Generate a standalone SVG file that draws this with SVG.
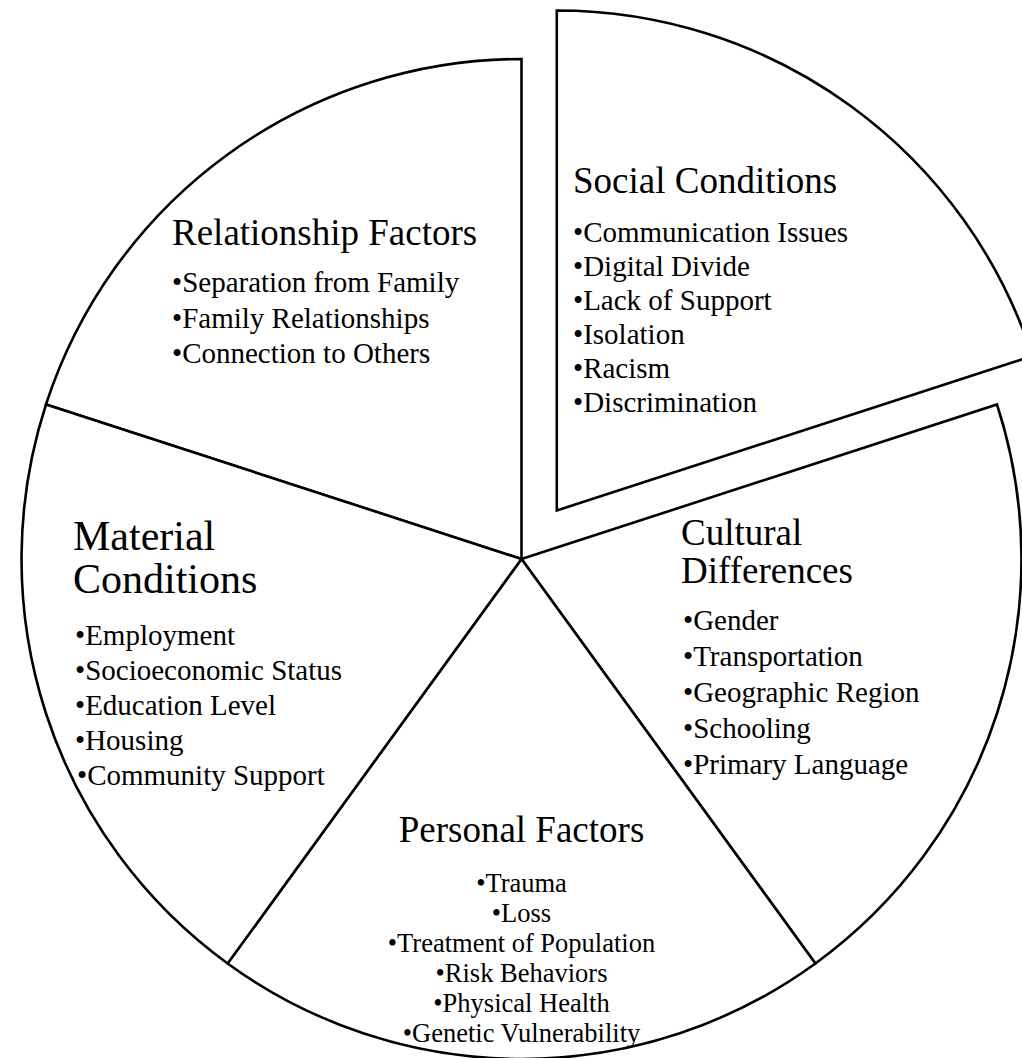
<svg xmlns="http://www.w3.org/2000/svg" width="1022" height="1058" viewBox="0 0 1022 1058">
<style>
.slice{fill:#ffffff;stroke:#000000;stroke-width:2.6;stroke-linejoin:miter}
text{font-family:"Liberation Serif","Times New Roman",serif;fill:#000000}
.t37{font-size:37px}
.t42{font-size:42px}
.b29{font-size:29px}
.b26{font-size:26.5px}
</style>
<rect x="0" y="0" width="1022" height="1058" fill="#ffffff"/>
<g id="slices">
<g id="relationship-factors">
<path class="slice" d="M 521.5 559 L 46.0 404.5 A 500 500 0 0 1 521.5 59 Z"/>
<text class="t37" x="172" y="245">Relationship Factors</text>
<text class="b29" x="172" y="292">•Separation from Family</text>
<text class="b29" x="172" y="327.5">•Family Relationships</text>
<text class="b29" x="172" y="363">•Connection to Others</text>
</g>
<g id="social-conditions">
<path class="slice" d="M 556.8 510.5 L 556.8 10.5 A 500 500 0 0 1 1032.3 356 Z"/>
<text class="t37" x="573" y="193">Social Conditions</text>
<text class="b29" x="573" y="242">•Communication Issues</text>
<text class="b29" x="573" y="276">•Digital Divide</text>
<text class="b29" x="573" y="310">•Lack of Support</text>
<text class="b29" x="573" y="344">•Isolation</text>
<text class="b29" x="573" y="378">•Racism</text>
<text class="b29" x="573" y="412">•Discrimination</text>
</g>
<g id="cultural-differences">
<path class="slice" d="M 521.5 559 L 997.0 404.5 A 500 500 0 0 1 815.4 963.5 Z"/>
<text class="t37" x="681" y="545">Cultural</text>
<text class="t37" x="681" y="583">Differences</text>
<text class="b29" x="683" y="630">•Gender</text>
<text class="b29" x="683" y="666">•Transportation</text>
<text class="b29" x="683" y="702">•Geographic Region</text>
<text class="b29" x="683" y="738">•Schooling</text>
<text class="b29" x="683" y="774">•Primary Language</text>
</g>
<g id="personal-factors">
<path class="slice" d="M 521.5 559 L 815.4 963.5 A 500 500 0 0 1 227.6 963.5 Z"/>
<text class="t37" x="521.5" y="842" text-anchor="middle">Personal Factors</text>
<text class="b26" x="521.5" y="892" text-anchor="middle">•Trauma</text>
<text class="b26" x="521.5" y="922" text-anchor="middle">•Loss</text>
<text class="b26" x="521.5" y="952" text-anchor="middle">•Treatment of Population</text>
<text class="b26" x="521.5" y="982" text-anchor="middle">•Risk Behaviors</text>
<text class="b26" x="521.5" y="1012" text-anchor="middle">•Physical Health</text>
<text class="b26" x="521.5" y="1042" text-anchor="middle">•Genetic Vulnerability</text>
</g>
<g id="material-conditions">
<path class="slice" d="M 521.5 559 L 227.6 963.5 A 500 500 0 0 1 46.0 404.5 Z"/>
<text class="t42" x="73" y="550">Material</text>
<text class="t42" x="73" y="593">Conditions</text>
<text class="b29" x="75" y="645">•Employment</text>
<text class="b29" x="75" y="680">•Socioeconomic Status</text>
<text class="b29" x="75" y="715">•Education Level</text>
<text class="b29" x="75" y="750">•Housing</text>
<text class="b29" x="77" y="785">•Community Support</text>
</g>
</g>
<g id="connectors"/>
</svg>
